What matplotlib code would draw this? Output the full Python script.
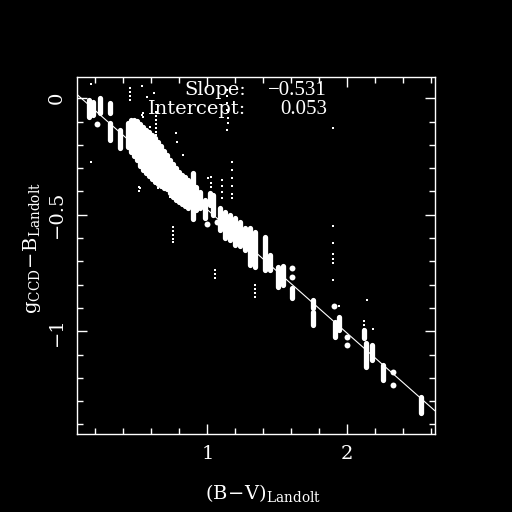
import matplotlib
matplotlib.use("Agg")
import matplotlib.pyplot as plt
from matplotlib.ticker import MultipleLocator

# fit
slope = -0.531
intercept = 0.053

# repeated measurements of one star -> vertical streaks (B-V, top, bottom)
streak_bv = [0.155, 0.184, 0.234, 0.305, 0.305, 0.376,
             0.434, 0.455, 0.476, 0.498, 0.519, 0.541, 0.562, 0.584, 0.605,
             0.626, 0.648, 0.669, 0.691, 0.712, 0.734, 0.755, 0.776, 0.798,
             0.819, 0.841, 0.862, 0.898, 0.919, 0.948,
             0.984, 1.019, 1.041, 1.091, 1.126, 1.162, 1.198, 1.234, 1.269,
             1.305, 1.341, 1.412, 1.448, 1.505, 1.541, 1.603, 1.755, 1.755,
             1.912, 1.941, 2.119, 2.134, 2.176, 2.253, 2.524]
streak_hi = [-0.007, -0.016, 0.001, -0.020, -0.106, -0.136,
             -0.106, -0.093, -0.093, -0.097, -0.110, -0.123, -0.136, -0.145, -0.158,
             -0.170, -0.188, -0.205, -0.226, -0.243, -0.265, -0.282, -0.299, -0.316,
             -0.329, -0.338, -0.351, -0.321, -0.381, -0.402,
             -0.436, -0.406, -0.415, -0.470, -0.488, -0.501, -0.514, -0.531, -0.557,
             -0.557, -0.574, -0.595, -0.673, -0.724, -0.719, -0.814, -0.866, -0.917,
             -0.960, -0.939, -0.994, -1.050, -1.059, -1.145, -1.282]
streak_lo = [-0.080, -0.072, -0.063, -0.063, -0.179, -0.213,
             -0.209, -0.230, -0.248, -0.265, -0.291, -0.308, -0.321, -0.333, -0.346,
             -0.359, -0.368, -0.376, -0.385, -0.389, -0.406, -0.424, -0.436, -0.445,
             -0.454, -0.462, -0.471, -0.520, -0.479, -0.471,
             -0.514, -0.458, -0.501, -0.565, -0.600, -0.608, -0.630, -0.634, -0.651,
             -0.715, -0.724, -0.737, -0.737, -0.810, -0.801, -0.857, -0.900, -0.973,
             -1.024, -0.994, -1.029, -1.154, -1.123, -1.209, -1.351]

# single measurements
big_bv = [0.212, 1.603, 1.603, 1.905, 1.996, 1.996, 2.324, 2.324, 0.998, 1.069]
big_res = [-0.110, -0.728, -0.767, -0.891, -1.024, -1.059, -1.173, -1.230, -0.540, -0.531]

small_bv = [0.169, 0.448, 0.448, 0.448, 0.448, 0.534, 0.619, 0.541, 0.541, 0.512, 0.512,
            0.755, 0.755, 0.755, 0.755, 0.755, 0.776,
            1.148, 1.148, 1.148,
            1.176, 1.176, 1.176, 1.176, 1.176, 1.176,
            1.105, 1.105, 1.105, 1.105, 1.026, 1.026, 1.026,
            1.898, 1.898, 1.898, 1.898, 1.898, 1.898, 1.898,
            2.141, 2.184, 1.941,
            1.055, 1.055, 1.055, 1.341, 1.341, 1.341, 1.341,
            0.636, 0.636, 0.636, 0.636, 0.636, 0.636, 0.636,
            1.141, 1.141, 1.141, 1.141, 1.141,
            2.119, 2.119, 2.119,
            0.569, 0.534, 0.591, 0.783, 0.826, 0.169, 0.519, 0.648, 0.734, 1.005]
small_res = [0.061, 0.044, 0.027, 0.010, -0.007, 0.053, 0.023, -0.063, -0.080, -0.381, -0.398,
             -0.552, -0.570, -0.587, -0.604, -0.617, -0.149,
             -0.059, -0.085, -0.106,
             -0.273, -0.308, -0.342, -0.376, -0.411, -0.428,
             -0.351, -0.376, -0.402, -0.428, -0.338, -0.364, -0.381,
             -0.127, -0.548, -0.621, -0.668, -0.690, -0.707, -0.780,
             -0.866, -0.990, -0.891,
             -0.737, -0.754, -0.771, -0.801, -0.818, -0.836, -0.853,
             -0.059, -0.076, -0.093, -0.110, -0.127, -0.145, -0.158,
             0.036, 0.010, -0.020, -0.050, -0.136,
             -0.956, -0.973, -0.990,
             0.006, -0.072, -0.123, -0.188, -0.243, -0.273, -0.385, -0.385, -0.424, -0.342]

x_ticks = [1, 2]
x_ticklabels = ['1', '2']
y_ticks = [0, -0.5, -1]
y_ticklabels = ['0', '\u22120.5', '\u22121']

plt.rcParams['font.family'] = ['DejaVu Serif']
plt.rcParams['mathtext.fontset'] = 'dejavuserif'

fig = plt.figure(figsize=(5.12, 5.12), dpi=100, facecolor='black')
ax = fig.add_axes([0.1504, 0.1523, 0.6986, 0.6973], facecolor='black')

ax.vlines(streak_bv, streak_lo, streak_hi, colors='white', linewidth=3.8,
          capstyle='round')
ax.scatter(big_bv, big_res, s=18, c='white', linewidths=0)
ax.scatter(small_bv, small_res, s=3, c='white', marker='s', linewidths=0)
ax.axline((0, intercept), slope=slope, color='white', linewidth=0.8)

ax.set_xlim(0.069, 2.624)
ax.set_ylim(-1.441, 0.0914)

ax.set_xticks(x_ticks, x_ticklabels)
ax.set_yticks(y_ticks, y_ticklabels)
ax.xaxis.set_minor_locator(MultipleLocator(0.2))
ax.yaxis.set_minor_locator(MultipleLocator(0.1))
ax.tick_params(which='both', direction='in', top=True, right=True,
               colors='white', labelsize=14, width=1)
ax.tick_params(which='major', length=7, pad=8)
ax.tick_params(which='minor', length=4)
ax.tick_params(axis='y', labelrotation=90)
for lab in ax.get_yticklabels():
    lab.set_va('center')
for s in ax.spines.values():
    s.set_color('white')
    s.set_linewidth(1)

ax.text(0.4725, 0.9487, 'Slope:', transform=ax.transAxes, color='white',
        fontsize=14, ha='right', va='baseline')
ax.text(0.699, 0.9487, '\u22120.531', transform=ax.transAxes, color='white',
        fontsize=15, family='Liberation Serif', ha='right', va='baseline')
ax.text(0.4725, 0.8964, 'Intercept:', transform=ax.transAxes, color='white',
        fontsize=14, ha='right', va='baseline')
ax.text(0.699, 0.8964, '0.053', transform=ax.transAxes, color='white',
        fontsize=15, family='Liberation Serif', ha='right', va='baseline')

ax.set_xlabel(r'$\mathrm{(B\!-\!V)}_{\mathrm{Landolt}}$', color='white', fontsize=14)
ax.set_ylabel(r'$\mathrm{g}_{\mathrm{CCD}}\!-\!\mathrm{B}_{\mathrm{Landolt}}$',
              color='white', fontsize=14)
ax.xaxis.set_label_coords(0.519, -0.134)
ax.yaxis.set_label_coords(-0.095, 0.52)

fig.savefig('out.png', dpi=100, facecolor='black')
